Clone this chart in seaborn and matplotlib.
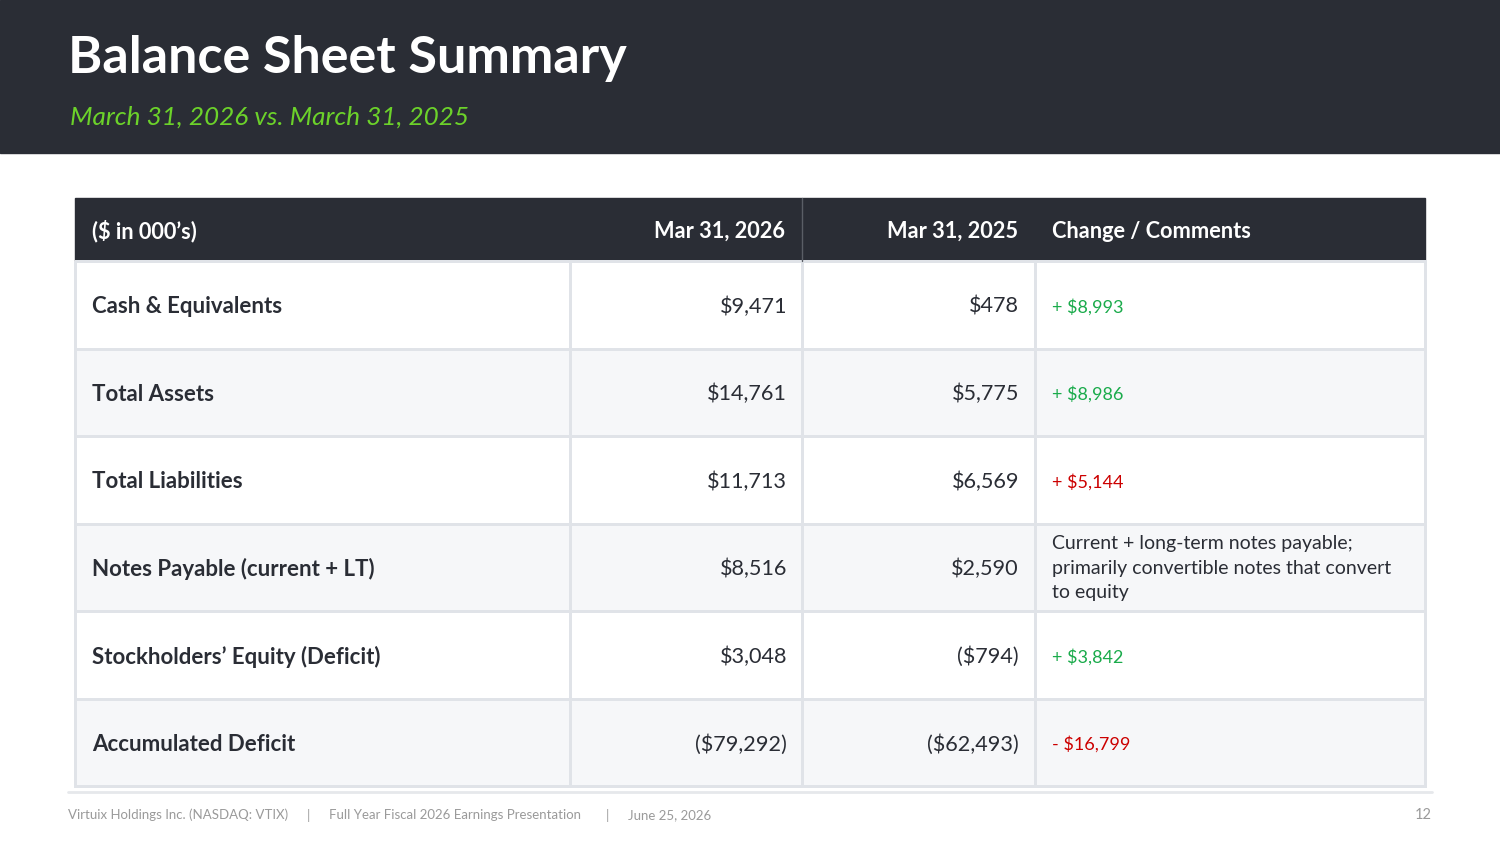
import matplotlib
matplotlib.use("Agg")
import matplotlib.pyplot as plt
import numpy as np
import seaborn as sns

# ---- data ----
title = "Balance Sheet Summary"
subtitle = "March 31, 2026 vs. March 31, 2025"
col_headers = ["($ in 000’s)", "Mar 31, 2026", "Mar 31, 2025", "Change / Comments"]
row_labels = ["Cash & Equivalents", "Total Assets", "Total Liabilities",
              "Notes Payable (current + LT)", "Stockholders’ Equity (Deficit)",
              "Accumulated Deficit"]
values_2026 = ["$9,471", "$14,761", "$11,713", "$8,516", "$3,048", "($79,292)"]
values_2025 = ["$478", "$5,775", "$6,569", "$2,590", "($794)", "($62,493)"]
changes = ["+ $8,993", "+ $8,986", "+ $5,144",
           "Current + long-term notes payable;\nprimarily convertible notes that convert\nto equity",
           "+ $3,842", "- $16,799"]
change_kind = ["good", "good", "bad", "note", "good", "bad"]
footer_items = ["Virtuix Holdings Inc. (NASDAQ: VTIX)", "Full Year Fiscal 2026 Earnings Presentation", "June 25, 2026"]
page_number = "12"

# ---- style ----
sns.set_theme(style="white")
plt.rcParams['font.family'] = ['Lato', 'DejaVu Sans']

DARK = "#2a2d35"
GREEN_SUB = "#6cd22a"
GREEN = "#1aab4b"
RED = "#cc0000"
TEXT = "#2a2d35"
GRID = "#e0e3e8"
ALT = "#f6f7f9"
kind_color = {"good": GREEN, "bad": RED, "note": TEXT}

W, H = 1500, 844
fig = plt.figure(figsize=(15, 8.44), dpi=100)
ax = fig.add_axes([0, 0, 1, 1])
ax.set_xlim(0, W)
ax.set_ylim(H, 0)
ax.axis("off")

# header band
ax.add_patch(plt.Rectangle((0, 0), W, 153, color=DARK, zorder=0))
ax.text(68, 58, title, color="white", fontsize=37.5, fontweight="bold", va="center", ha="left")
ax.text(70, 117, subtitle, color=GREEN_SUB, fontsize=18.8, style="italic", va="center", ha="left")

# table geometry
x_edges = np.array([75, 570, 802, 1035, 1425])
head_top, head_bot = 198, 261
n = len(row_labels)
y_edges = np.linspace(head_bot, 786, n + 1)

# header row
ax.add_patch(plt.Rectangle((x_edges[0], head_top), x_edges[-1] - x_edges[0], head_bot - head_top,
                           color=DARK, zorder=1))
ax.plot([x_edges[2], x_edges[2]], [head_top, head_bot], color="#5a5e66", lw=1, zorder=2)
hy = (head_top + head_bot) / 2 + 2
pad = 17
hfs = 15.7
ax.text(x_edges[0] + pad, hy, col_headers[0], color="white", fontsize=hfs, fontweight="bold", va="center", ha="left")
ax.text(x_edges[2] - pad, hy, col_headers[1], color="white", fontsize=hfs, fontweight="bold", va="center", ha="right")
ax.text(x_edges[3] - pad, hy, col_headers[2], color="white", fontsize=hfs, fontweight="bold", va="center", ha="right")
ax.text(x_edges[3] + pad, hy, col_headers[3], color="white", fontsize=hfs, fontweight="bold", va="center", ha="left")

# body cells via pcolormesh (alternating shading)
shade = np.array([[i % 2] * (len(x_edges) - 1) for i in range(n)], dtype=float)
cmap = matplotlib.colors.ListedColormap(["white", ALT])
ax.pcolormesh(x_edges, y_edges, shade, cmap=cmap, vmin=0, vmax=1,
              edgecolors=GRID, linewidth=2, zorder=1)

for i in range(n):
    cy = (y_edges[i] + y_edges[i + 1]) / 2 + 2
    ax.text(x_edges[0] + pad, cy, row_labels[i], color=TEXT, fontsize=16, fontweight="bold", va="center", ha="left", zorder=3)
    ax.text(x_edges[2] - pad + 2, cy, values_2026[i], color=TEXT, fontsize=15.6, va="center", ha="right", zorder=3)
    ax.text(x_edges[3] - pad + 1, cy, values_2025[i], color=TEXT, fontsize=15.6, va="center", ha="right", zorder=3)
    k = change_kind[i]
    ax.text(x_edges[3] + pad, cy - (1 if k == "note" else 0), changes[i], color=kind_color[k],
            fontsize=14 if k == "note" else 13,
            va="center", ha="left", linespacing=1.55, zorder=3)

# footer
ax.plot([68, 1432], [792, 792], color="#e6e8eb", lw=2)
fcol = "#9a9a9a"
ffs = 9.5
for x, s in zip([68, 329, 628], footer_items):
    ax.text(x, 815, s, color=fcol, fontsize=ffs, va="center", ha="left")
for x in [308, 607]:
    ax.text(x, 815, "|", color=fcol, fontsize=ffs, va="center", ha="center")
ax.text(1432, 815, page_number, color=fcol, fontsize=10.5, va="center", ha="right")

fig.savefig("out.png", dpi=100)
